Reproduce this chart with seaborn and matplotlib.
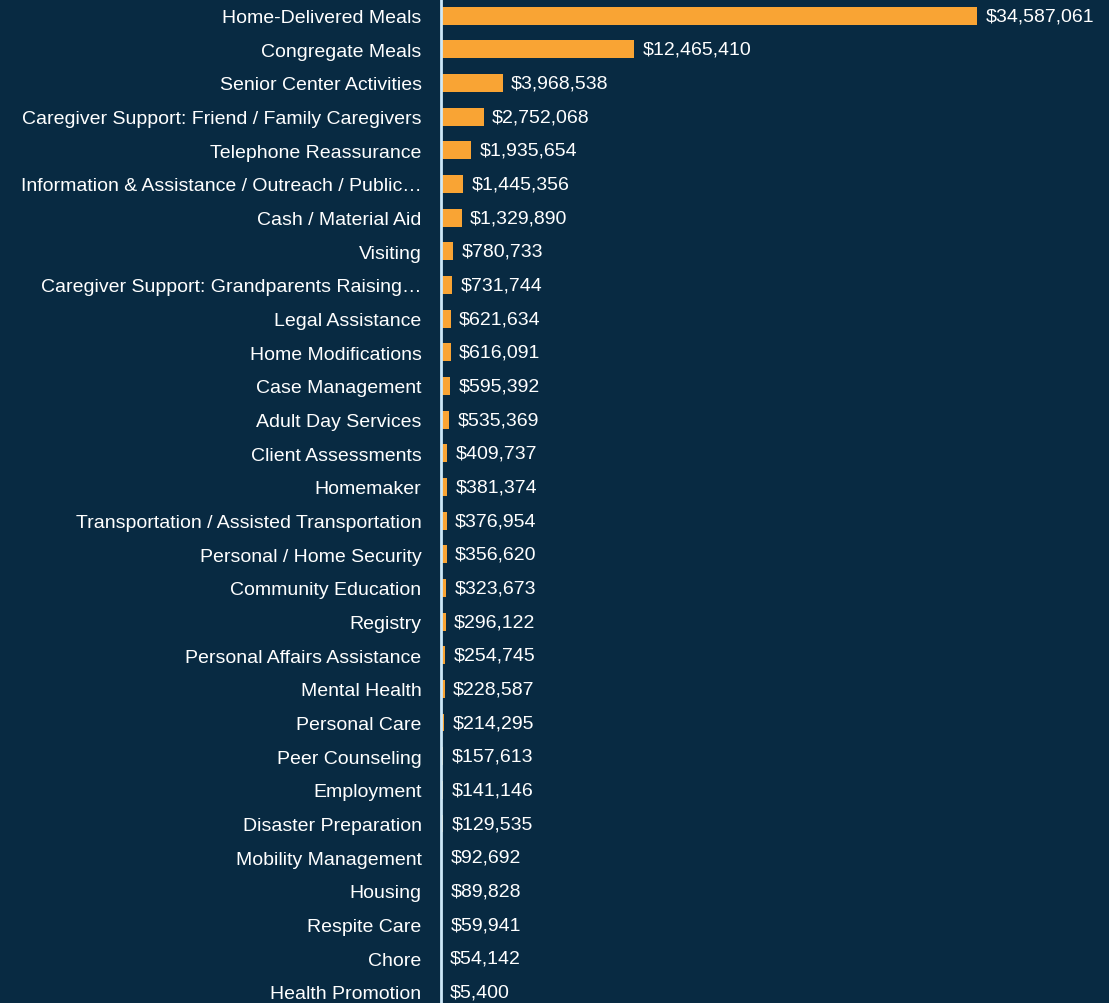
import matplotlib
matplotlib.use("Agg")
import matplotlib.pyplot as plt
import seaborn as sns
import pandas as pd

categories = [
    "Home-Delivered Meals", "Congregate Meals", "Senior Center Activities",
    "Caregiver Support: Friend / Family Caregivers", "Telephone Reassurance",
    "Information & Assistance / Outreach / Public…", "Cash / Material Aid", "Visiting",
    "Caregiver Support: Grandparents Raising…", "Legal Assistance", "Home Modifications",
    "Case Management", "Adult Day Services", "Client Assessments", "Homemaker",
    "Transportation / Assisted Transportation", "Personal / Home Security",
    "Community Education", "Registry", "Personal Affairs Assistance", "Mental Health",
    "Personal Care", "Peer Counseling", "Employment", "Disaster Preparation",
    "Mobility Management", "Housing", "Respite Care", "Chore", "Health Promotion",
]
values = [
    34587061, 12465410, 3968538, 2752068, 1935654, 1445356, 1329890, 780733,
    731744, 621634, 616091, 595392, 535369, 409737, 381374, 376954, 356620,
    323673, 296122, 254745, 228587, 214295, 157613, 141146, 129535, 92692,
    89828, 59941, 54142, 5400,
]

BG = "#082a42"
BAR = "#f9a434"

sns.set_theme(style="white")
plt.rcParams["font.family"] = ["Liberation Sans Narrow", "Liberation Sans", "DejaVu Sans"]

df = pd.DataFrame({"category": categories, "value": values})

fig = plt.figure(figsize=(11.09, 10.04), dpi=100, facecolor=BG)
ax = fig.add_axes([441 / 1109, 0, 1 - 441 / 1109, 1])
ax.set_facecolor(BG)

sns.barplot(data=df, x="value", y="category", color=BAR, saturation=1,
            width=0.53, ax=ax, orient="h", linewidth=0, edgecolor="none")

ax.set_xlim(0, 34587061 * (1109 - 441) / 536)
ax.set_ylim(29.33, -0.494)

labels = [f"${v:,.0f}" for v in values]
ax.bar_label(ax.containers[0], labels=labels, padding=6, color="white", fontsize=14)

ax.set_xlabel("")
ax.set_ylabel("")
ax.set_xticks([])
ax.tick_params(axis="y", length=0, pad=14, labelsize=14, labelcolor="white")
for s in ["top", "right", "bottom"]:
    ax.spines[s].set_visible(False)
ax.spines["left"].set_color("#cde8f8")
ax.spines["left"].set_linewidth(2)

fig.savefig("out.png", dpi=100, facecolor=BG)
